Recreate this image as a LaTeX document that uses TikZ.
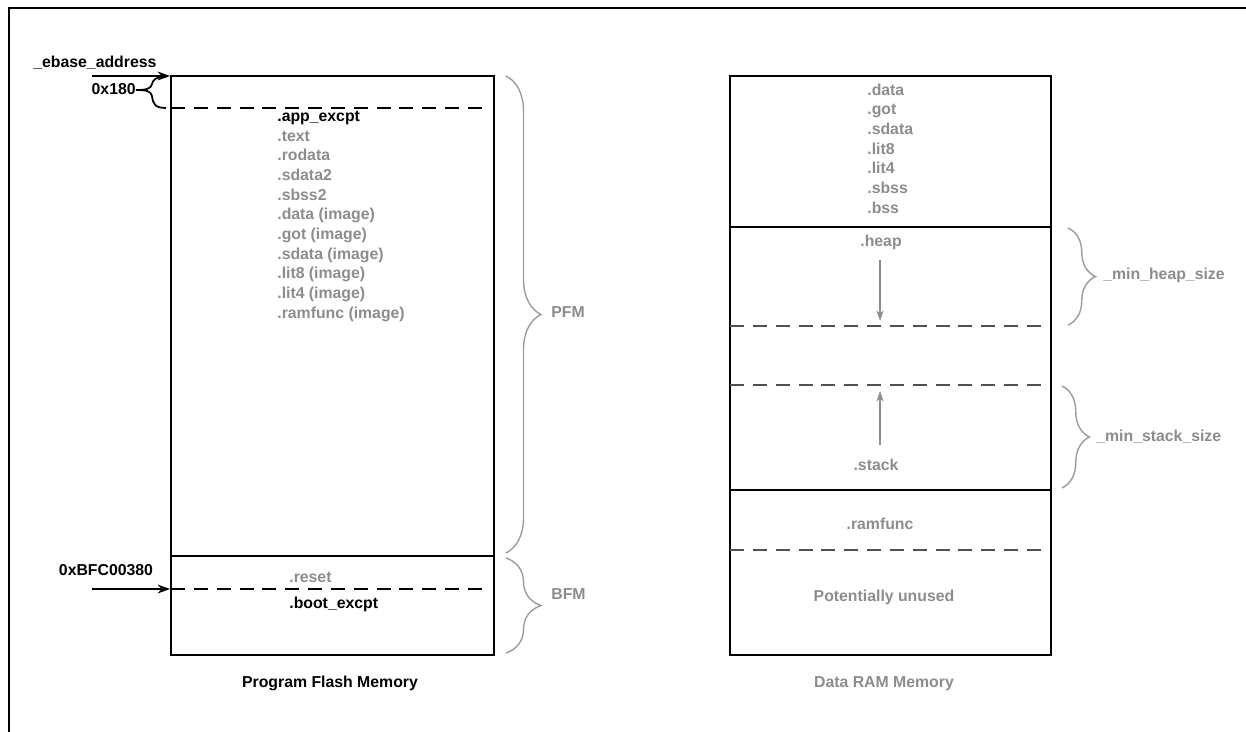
\documentclass[tikz,border=0pt]{standalone}
\usepackage{fontspec}
\setmainfont{Liberation Sans}
\usetikzlibrary{decorations.pathreplacing,arrows.meta}
\definecolor{memgray}{RGB}{140,140,140}
\definecolor{bracegray}{RGB}{155,155,155}
\definecolor{cutgray}{RGB}{80,80,80}

\begin{document}
\begin{tikzpicture}[x=0.02cm, y=-0.02cm,
  lbl/.style = {font=\bfseries\fontsize{9}{11}\selectfont, inner sep=0pt, text height=6.5pt, text depth=1.9pt},
  sec/.style = {lbl, text=memgray},
  memline/.style = {line width=1.1pt},
  cut/.style = {line width=1.1pt, dash pattern=on 8pt off 5pt},
  brc/.style = {draw=bracegray, line width=0.8pt, decorate, decoration={brace, amplitude=0.7cm}},
  growarrow/.style = {draw=memgray, line width=0.8pt, -{Stealth[length=6pt, width=4pt]}},
  ptr/.style = {line width=1pt, -{Stealth[length=7pt, width=5pt]}}]

  \useasboundingbox (0,0) rectangle (1246,732);
  \draw[line width=1.6pt] (9,732) -- (9,8) -- (1246,8);

  % program flash memory
  \draw[memline] (171,76) rectangle (494,655);
  \draw[memline] (171,556) -- (494,556);
  \draw[cut] (171,108) -- (485,108);
  \draw[cut] (171,589) -- (485,589);
  \node[lbl, anchor=west] (appx) at (277,117) {.app\_excpt};
  \node[sec, anchor=west] (text) at (277,137) {.text};
  \node[sec, anchor=west] (rodata) at (277,156) {.rodata};
  \node[sec, anchor=west] (sdata2) at (277,176) {.sdata2};
  \node[sec, anchor=west] (sbss2) at (277,196) {.sbss2};
  \node[sec, anchor=west] (dataimg) at (277,215) {.data (image)};
  \node[sec, anchor=west] (gotimg) at (277,235) {.got (image)};
  \node[sec, anchor=west] (sdataimg) at (277,255) {.sdata (image)};
  \node[sec, anchor=west] (lit8img) at (277,274) {.lit8 (image)};
  \node[sec, anchor=west] (lit4img) at (277,294) {.lit4 (image)};
  \node[sec, anchor=west] (ramfimg) at (277,314) {.ramfunc (image)};
  \node[sec, anchor=west] (reset) at (289,578) {.reset};
  \node[lbl, anchor=west] (bootx) at (289,604) {.boot\_excpt};
  \node[lbl] (pfmname) at (330,683) {Program Flash Memory};

  % addresses
  \node[lbl, anchor=west] (ebase) at (33,63) {\_ebase\_address};
  \node[lbl, anchor=east] (off) at (136,90) {0x180};
  \node[lbl] (bfcaddr) at (106,571) {0xBFC00380};
  \coordinate (ebase_from) at (92,76);
  \coordinate (ebase_to) at (170,76);
  \coordinate (boot_from) at (92,589);
  \coordinate (boot_to) at (170,589);
  \draw[ptr] (ebase_from) -- (ebase_to);
  \draw[ptr] (boot_from) -- (boot_to);
  \draw[line width=1pt] (166,77) .. controls (155,77) and (153,80) .. (152,84)
    .. controls (151,89) and (146,90) .. (off.east)
    .. controls (146,90) and (151,91) .. (152,96)
    .. controls (153,104) and (155,108) .. (166,108);

  % braces PFM / BFM
  \draw[brc] (506,76) -- (506,553);
  \draw[brc] (506,558) -- (506,653);
  \node[sec, anchor=west] (pfm) at (551,313) {PFM};
  \node[sec, anchor=west] (bfm) at (551,595) {BFM};

  % data ram memory
  \draw[memline] (730,76) rectangle (1051,655);
  \draw[memline] (730,227) -- (1051,227);
  \draw[memline] (730,490) -- (1051,490);
  \draw[cut, draw=cutgray] (730,326) -- (1042,326);
  \draw[cut, draw=cutgray] (730,385) -- (1042,385);
  \draw[cut, draw=cutgray] (730,550) -- (1042,550);
  \node[sec, anchor=west] (data) at (867,91) {.data};
  \node[sec, anchor=west] (got) at (867,110) {.got};
  \node[sec, anchor=west] (sdata) at (867,130) {.sdata};
  \node[sec, anchor=west] (lit8) at (867,150) {.lit8};
  \node[sec, anchor=west] (lit4) at (867,169) {.lit4};
  \node[sec, anchor=west] (sbss) at (867,189) {.sbss};
  \node[sec, anchor=west] (bss) at (867,209) {.bss};
  \node[sec] (heap) at (881,242) {.heap};
  \node[sec] (stack) at (876,466) {.stack};
  \node[sec] (ramfunc) at (880,525) {.ramfunc};
  \node[sec] (unused) at (884,597) {Potentially unused};
  \node[sec] (ramname) at (884,683) {Data RAM Memory};
  \coordinate (heap_from) at (880,260);
  \coordinate (heap_to) at (880,321);
  \coordinate (stack_from) at (880,445);
  \coordinate (stack_to) at (880,391);
  \draw[growarrow] (heap_from) -- (heap_to);
  \draw[growarrow] (stack_from) -- (stack_to);

  % braces heap / stack
  \draw[brc, decoration={amplitude=0.55cm}] (1068,228) -- (1068,325);
  \draw[brc, decoration={amplitude=0.55cm}] (1062,386) -- (1062,488);
  \node[sec, anchor=west] (minheap) at (1103,275) {\_min\_heap\_size};
  \node[sec, anchor=west] (minstack) at (1096,437) {\_min\_stack\_size};
\end{tikzpicture}
\end{document}
